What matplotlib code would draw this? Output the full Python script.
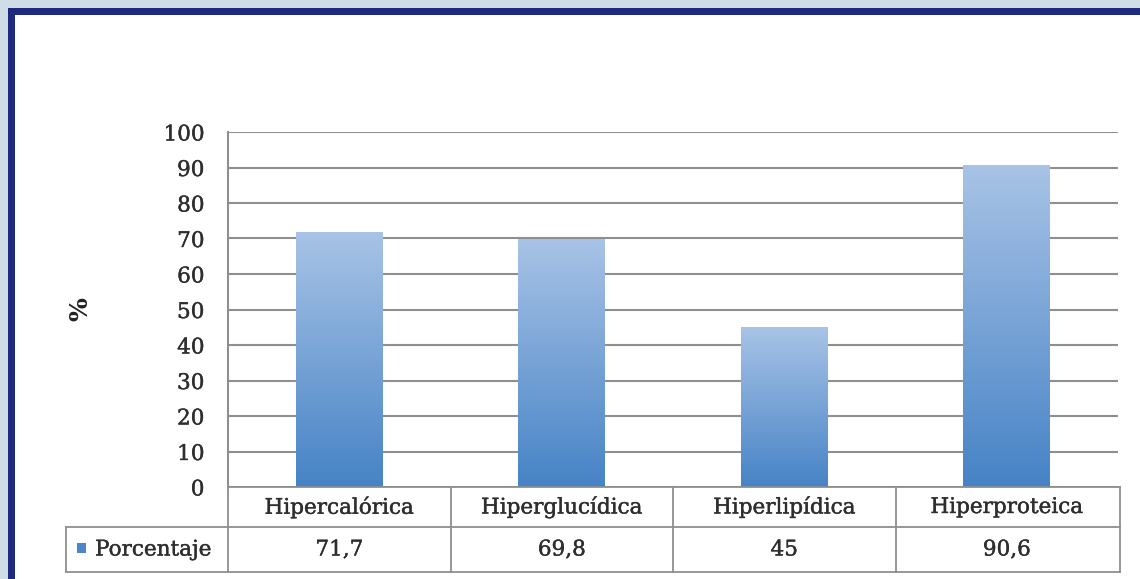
import numpy as np
import matplotlib.pyplot as plt
import matplotlib.patheffects as pe
from matplotlib.patches import Rectangle
from matplotlib.colors import LinearSegmentedColormap

categorias = ['Hipercalórica', 'Hiperglucídica', 'Hiperlipídica', 'Hiperproteica']
porcentaje = [71.7, 69.8, 45, 90.6]
etiquetas = ['71,7', '69,8', '45', '90,6']
serie = 'Porcentaje'
yticks = list(range(0, 101, 10))

W, H = 1140, 579
fig = plt.figure(figsize=(W / 100, H / 100), dpi=100)
fig.patch.set_facecolor('white')

# marco exterior (banda clara + borde azul oscuro arriba e izquierda)
bg = fig.add_axes([0, 0, 1, 1])
bg.set_xlim(0, W); bg.set_ylim(H, 0); bg.axis('off')
bg.add_patch(Rectangle((0, 0), W, 8, color='#cfdde7', lw=0))
bg.add_patch(Rectangle((0, 0), 8, H, color='#cfdde7', lw=0))
bg.add_patch(Rectangle((8, 8), W, 7, color='#1f2a7c', lw=0))
bg.add_patch(Rectangle((8, 8), 7, H, color='#1f2a7c', lw=0))

fuente = 'DejaVu Serif'
gris = '#8f8f8f'
texto = '#2e2e2e'
grueso = [pe.withStroke(linewidth=0.3, foreground=texto)]
fs = 15.5

x0, x1, ytop, y0 = 228, 1118, 132, 487
ax = fig.add_axes([x0 / W, 1 - y0 / H, (x1 - x0) / W, (y0 - ytop) / H])
ax.set_xlim(-0.5, len(categorias) - 0.5)
ax.set_ylim(0, 100)
for s in ['top', 'right', 'bottom']:
    ax.spines[s].set_visible(False)
ax.spines['left'].set_color(gris)
ax.spines['left'].set_linewidth(1.5)
ax.set_yticks(yticks)
ax.set_yticklabels([str(v) for v in yticks], fontfamily=fuente, fontsize=fs,
                   color=texto, path_effects=grueso)
ax.tick_params(axis='y', length=0, pad=17)
ax.set_xticks([])
ax.yaxis.grid(True, color=gris, lw=1.5)
ax.set_axisbelow(True)
ax.set_ylabel('%', fontfamily=fuente, fontsize=18, fontweight='bold',
              color='#222222', labelpad=51)

# barras con degradado vertical
cmap = LinearSegmentedColormap.from_list('azul', ['#4683c6', '#a8c3e6'])
grad = np.linspace(0, 1, 256).reshape(-1, 1)
ancho = 0.39
bars = ax.bar(range(len(categorias)), porcentaje, width=ancho, color='none',
              edgecolor='none')
for b in bars:
    bx, by = b.get_x(), b.get_y()
    bw, bh = b.get_width(), b.get_height()
    im = ax.imshow(grad, cmap=cmap, origin='lower', aspect='auto',
                   extent=[bx, bx + bw, by, by + bh], zorder=2)
    im.set_clip_path(b)
ax.set_xlim(-0.5, len(categorias) - 0.5)
ax.set_ylim(0, 100)

# tabla de datos debajo del eje
tab = fig.add_axes([0, 0, 1, 1], facecolor='none')
tab.set_xlim(0, W); tab.set_ylim(H, 0); tab.axis('off')
tx0, tx1 = 66, 1120
ty0, ty1, ty2 = 487, 527, 572
cw = (x1 - x0) / len(categorias)
lkw = dict(color=gris, lw=1.3)
tab.plot([x0, tx1], [ty0, ty0], **lkw)
tab.plot([tx0, tx1], [ty1, ty1], **lkw)
tab.plot([tx0, tx1], [ty2, ty2], **lkw)
tab.plot([tx0, tx0], [ty1, ty2], **lkw)
for i in range(len(categorias) + 1):
    xx = x0 + i * cw if i < len(categorias) else tx1
    tab.plot([xx, xx], [ty0, ty2], **lkw)
for i, (c, e) in enumerate(zip(categorias, etiquetas)):
    cx = x0 + (i + 0.5) * cw
    tab.text(cx, (ty0 + ty1) / 2, c, ha='center', va='center',
             fontfamily=fuente, fontsize=fs, color=texto, path_effects=grueso)
    tab.text(cx, (ty1 + ty2) / 2, e, ha='center', va='center',
             fontfamily=fuente, fontsize=fs, color=texto, path_effects=grueso)
tab.add_patch(Rectangle((77, 543), 9, 10, color='#4a87c9', lw=0))
tab.text(95, (ty1 + ty2) / 2, serie, ha='left', va='center',
         fontfamily=fuente, fontsize=fs, color=texto, path_effects=grueso)

fig.savefig('out.png', dpi=100)
